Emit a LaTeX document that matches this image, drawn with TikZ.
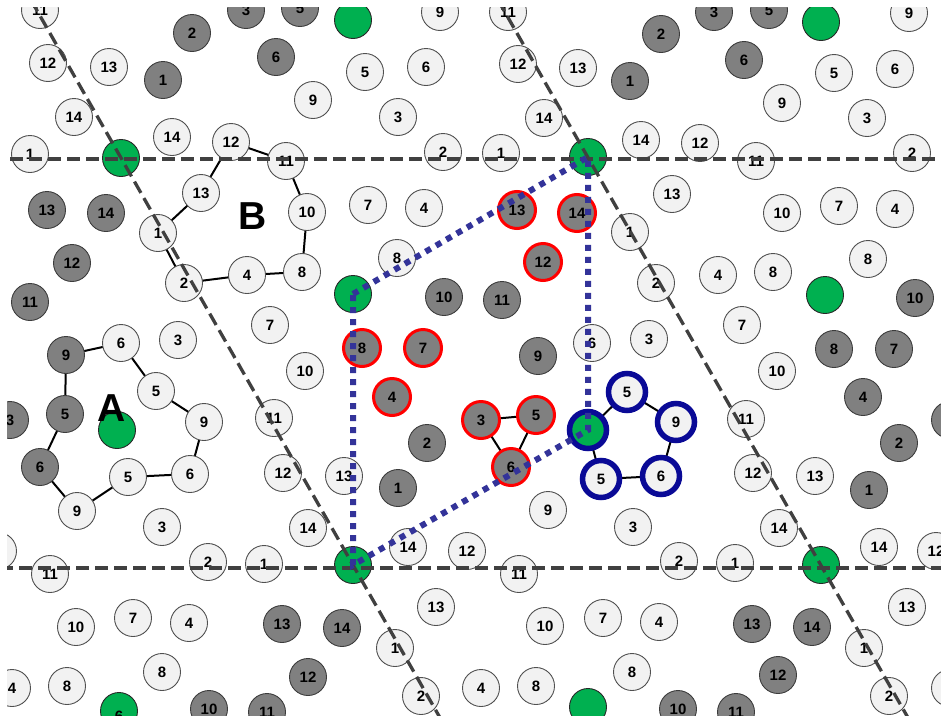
\documentclass[tikz,border=0pt]{standalone}
\usepackage{fontspec}
\setmainfont{Liberation Sans}
\pgfdeclarelayer{edges}
\pgfsetlayers{edges,main}
\definecolor{lfill}{RGB}{242,242,242}
\definecolor{lborder}{RGB}{80,80,80}
\definecolor{dfill}{RGB}{128,128,128}
\definecolor{dborder}{RGB}{60,60,60}
\definecolor{gfill}{RGB}{0,176,80}
\definecolor{gborder}{RGB}{40,40,40}
\definecolor{navy}{RGB}{10,10,150}
\definecolor{dashcol}{RGB}{64,64,64}
\definecolor{dotcol}{RGB}{51,51,153}
\begin{document}
\begin{tikzpicture}[x=1pt,y=-1pt,
  atom/.style={circle, minimum size=37pt, inner sep=0pt, text=black, font=\bfseries\fontsize{15}{15}\selectfont},
  lt/.style={atom, fill=lfill, draw=lborder, line width=0.9pt},
  dk/.style={atom, fill=dfill, draw=dborder, line width=0.9pt},
  rd/.style={atom, fill=dfill, draw=red, line width=3pt},
  bl/.style={atom, fill=lfill, draw=navy, line width=5.5pt},
  gn/.style={atom, fill=gfill, draw=gborder, line width=0.9pt},
  bond/.style={black, line width=2pt},
  cellline/.style={dashcol, line width=3.3pt, dash pattern=on 13pt off 6pt},
  dotline/.style={dotcol, line width=6pt, dash pattern=on 6pt off 6pt},
  big/.style={inner sep=0pt, text=black, font=\bfseries\fontsize{39}{39}\selectfont}]
\useasboundingbox (0,0) rectangle (941,715);
\begin{scope}
\clip (7,7) rectangle (941,715);
% light atoms
\foreach \x/\y/\t [count=\n] in {40/10/11,440/12/9,508/12/11,909/13/9,48/63/12,109/67/13,365/72/5,426/67/6,518/64/12,578/68/13,834/73/5,895/69/6,313/100/9,782/103/9,74/117/14,398/117/3,544/118/14,867/118/3,172/137/14,641/140/14,700/143/12,30/154/1,443/152/2,501/153/1,912/153/2,756/161/11,672/194/13,782/213/10,368/205/7,839/206/7,424/208/4,895/209/4,630/232/1,656/283/2,718/275/4,773/272/8,397/258/8,868/259/8,270/325/7,742/325/7,178/340/3,649/339/3,592/343/6,305/371/10,777/371/10,274/418/11,746/419/11,283/473/12,753/473/12,344/476/13,815/476/13,548/510/9,162/527/3,633/527/3,308/528/14,779/528/14,408/547/14,879/547/14,467/551/12,936/551/12,-2/551/12,208/562/2,679/561/2,264/564/1,735/563/1,50/574/11,519/574/11,436/607/13,907/607/13,76/627/10,545/626/10,133/618/7,603/618/7,189/623/4,659/622/4,395/648/1,864/648/1,162/672/8,632/672/8,67/686/8,536/686/8,12/688/4,481/688/4,950/688/4,421/696/2,889/696/2}
  \node[lt] (l\n) at (\x,\y) {\t};
% dark atoms
\foreach \x/\y/\t [count=\n] in {246/10/3,300/8/5,714/12/3,769/10/5,192/33/2,661/34/2,276/57/6,744/60/6,163/80/1,630/81/1,47/210/13,106/213/14,72/263/12,30/302/11,444/297/10,502/300/11,915/298/10,538/356/9,834/349/8,894/349/7,863/397/4,10/420/3,950/420/3,427/443/2,899/443/2,398/488/1,869/490/1,282/624/13,752/624/13,342/628/14,812/627/14,308/677/12,778/675/12,209/709/10,678/709/10,267/712/11,736/712/11}
  \node[dk] (d\n) at (\x,\y) {\t};
% red-ringed atoms
\foreach \x/\y/\t [count=\n] in {517/210/13,577/213/14,543/262/12,362/348/8,423/348/7,392/397/4}
  \node[rd] (r\n) at (\x,\y) {\t};
\node[rd] (r3) at (481,420) {3};
\node[rd] (r5) at (536,415) {5};
\node[rd] (r6) at (511,467) {6};
% ring B
\node[lt] (b12) at (231,142) {12};
\node[lt] (b11) at (286,161) {11};
\node[lt] (b10) at (307,212) {10};
\node[lt] (b8) at (302,272) {8};
\node[lt] (b4) at (247,275) {4};
\node[lt] (b2) at (184,283) {2};
\node[lt] (b1) at (158,233) {1};
\node[lt] (b13) at (201,193) {13};
% ring A
\node[dk] (a9d) at (66,355) {9};
\node[lt] (a6) at (121,343) {6};
\node[lt] (a5) at (156,391) {5};
\node[lt] (a9) at (204,422) {9};
\node[lt] (a6b) at (190,474) {6};
\node[lt] (a5b) at (128,477) {5};
\node[lt] (a9b) at (77,511) {9};
\node[dk] (a6d) at (40,467) {6};
\node[dk] (a5d) at (65,414) {5};
% green atoms
\node[gn] (g1) at (121,158) {};
\node[gn] (g2) at (588,157) {};
\node[gn] (g3) at (353,20) {};
\node[gn] (g4) at (821,22) {};
\node[gn] (g5) at (353,294) {};
\node[gn] (g6) at (825,295) {};
\node[gn] (g7) at (117,430) {};
\node[gn] (g9) at (353,565) {};
\node[gn] (g10) at (821,565) {};
\node[gn] (g11) at (119,711) {};
\node[atom] (g11t) at (119,716) {6};
\node[gn] (g12) at (588,707) {};
% blue ring
\node[bl, fill=gfill] (gB) at (588,430) {};
\node[bl] (u5) at (627,392) {5};
\node[bl] (u9) at (676,422) {9};
\node[bl] (u6) at (661,476) {6};
\node[bl] (u5b) at (601,479) {5};
% bonds
\begin{pgfonlayer}{edges}
\draw[bond] (b12.center)--(b11.center)--(b10.center)--(b8.center)--(b4.center)--(b2.center)--(b1.center)--(b13.center)--cycle;
\draw[bond] (a9d.center)--(a6.center)--(a5.center)--(a9.center)--(a6b.center)--(a5b.center)--(a9b.center)--(a6d.center)--(a5d.center)--cycle;
\draw[bond] (r3.center)--(r5.center)--(r6.center)--cycle;
\draw[bond] (gB.center)--(u5.center)--(u9.center)--(u6.center)--(u5b.center)--cycle;
\end{pgfonlayer}
% cell lines
\coordinate (hl1) at (10,159);
\coordinate (hr1) at (945,159);
\coordinate (hl2) at (0,568);
\coordinate (hr2) at (945,568);
\coordinate (sa1) at (31,0);
\coordinate (sb1) at (443,723);
\coordinate (sa2) at (498,0);
\coordinate (sb2) at (911,723);
\draw[cellline] (hl1) -- (hr1);
\draw[cellline] (hl2) -- (hr2);
\draw[cellline] (sa1) -- (sb1);
\draw[cellline] (sa2) -- (sb2);
\draw[dotline] (g5.center) -- (g2.center) -- (gB.center) -- (g9.center) -- cycle;
\node[big] (labA) at (112,408) {A};
\node[big] (labB) at (253,216) {B};
\end{scope}
\end{tikzpicture}
\end{document}
